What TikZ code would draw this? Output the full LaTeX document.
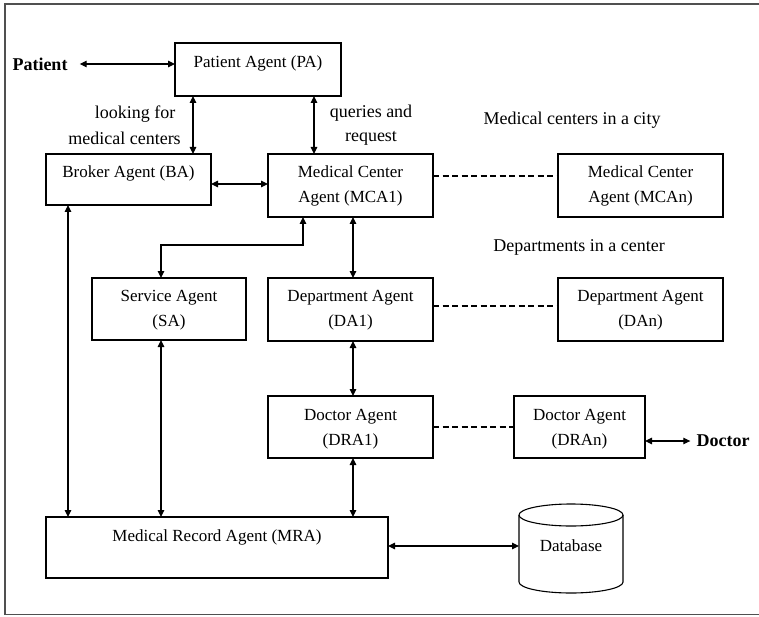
\documentclass[tikz,border=0pt]{standalone}
\usepackage{fontspec}
\setmainfont{Liberation Serif}
\usetikzlibrary{arrows.meta}
\definecolor{framegray}{RGB}{80,80,80}
\begin{document}
\begin{tikzpicture}[x=1pt,y=-1pt,
  box/.style={draw=black, line width=1.1pt, inner sep=0pt, outer sep=0pt},
  txt/.style={font=\fontsize{17}{25}\selectfont, align=center, inner sep=0pt},
  lbl/.style={font=\fontsize{18}{24}\selectfont, align=center, inner sep=0pt},
  ext/.style={font=\fontsize{18}{22}\selectfont\bfseries, inner sep=0pt},
  conn/.style={line width=1.1pt, {Triangle[length=7pt,width=6.5pt]}-{Triangle[length=7pt,width=6.5pt]}},
  dashline/.style={line width=1.1pt, dash pattern=on 6pt off 3.5pt}]
\useasboundingbox (0,0) rectangle (759,617);
% frame
\draw[line width=1.5pt, draw=framegray] (759,4) -- (5,4) -- (5,614.5) -- (759,614.5);

% column / row helpers
\coordinate (c68) at (68,0);
\coordinate (c161) at (161,0);
\coordinate (c193) at (193,0);
\coordinate (c303) at (303,0);
\coordinate (c314) at (314,0);
\coordinate (c353) at (353,0);
\coordinate (r176) at (0,176);
\coordinate (r184) at (0,184);
\coordinate (r245) at (0,245);
\coordinate (r306) at (0,306);
\coordinate (r427) at (0,427);
\coordinate (r546) at (0,546);

% boxes
\node[box, minimum width=166pt, minimum height=53pt] (pa) at (258,69.5) {};
\node[txt] (pat) at (258,63) {Patient Agent (PA)};
\node[box, minimum width=165pt, minimum height=51pt] (ba) at (128.5,179.5) {};
\node[txt] (bat) at (128.5,173) {Broker Agent (BA)};
\node[box, minimum width=165pt, minimum height=63pt] (mca) at (350.5,185.5) {};
\node[txt] (mcat) at (350.5,186) {Medical Center\\Agent (MCA1)};
\node[box, minimum width=165pt, minimum height=63pt] (mcan) at (640.5,185.5) {};
\node[txt] (mcant) at (640.5,186) {Medical Center\\Agent (MCAn)};
\node[box, minimum width=154pt, minimum height=62pt] (sa) at (169,309) {};
\node[txt] (sat) at (169,310) {Service Agent\\(SA)};
\node[box, minimum width=165pt, minimum height=63pt] (da) at (350.5,309.5) {};
\node[txt] (dat) at (350.5,310) {Department Agent\\(DA1)};
\node[box, minimum width=165pt, minimum height=63pt] (dan) at (640.5,309.5) {};
\node[txt] (dant) at (640.5,310) {Department Agent\\(DAn)};
\node[box, minimum width=165pt, minimum height=62pt] (dra) at (350.5,427) {};
\node[txt] (drat) at (350.5,429) {Doctor Agent\\(DRA1)};
\node[box, minimum width=131pt, minimum height=62pt] (dran) at (579.5,427) {};
\node[txt] (drant) at (579.5,429) {Doctor Agent\\(DRAn)};
\node[box, minimum width=342pt, minimum height=61pt] (mra) at (217,547.5) {};
\node[txt] (mrat) at (217,537) {Medical Record Agent (MRA)};

% database cylinder
\node[inner sep=0pt, outer sep=0pt, minimum width=104pt, minimum height=89pt] (db) at (571,548.5) {};
\draw[line width=1.1pt, fill=white] (519,515) -- (519,582)
  arc[start angle=180, end angle=360, x radius=52pt, y radius=11pt] -- (623,515);
\draw[line width=1.1pt] (571,515) ellipse [x radius=52pt, y radius=11pt];
\node[txt] (dbt) at (571,546) {Database};

% external actors
\node[ext] (patient) at (40,64) {Patient};
\node[ext] (doctor) at (723,441) {Doctor};

% labels
\node[lbl] (lf1) at (135,114) {looking for};
\node[lbl] (lf2) at (124.5,138) {medical centers};
\node[lbl] (qr) at (371,125) {queries and\\request};
\node[lbl] (mcc) at (572,120) {Medical centers in a city};
\node[lbl] (dic) at (579,247) {Departments in a center};

% connectors
\draw[conn] ([xshift=12pt]patient.east) -- (patient.east -| pa.west);
\draw[conn] (pa.south -| c193) -- (ba.north -| c193);
\draw[conn] (pa.south -| c314) -- (mca.north -| c314);
\draw[conn] (ba.east |- r184) -- (mca.west |- r184);
\draw[conn] (mca.south -| c303) -- (c303 |- r245) -- (c161 |- r245) -- (sa.north -| c161);
\draw[conn] (mca.south -| c353) -- (da.north -| c353);
\draw[conn] (da.south -| c353) -- (dra.north -| c353);
\draw[conn] (dra.south -| c353) -- (mra.north -| c353);
\draw[conn] (ba.south -| c68) -- (mra.north -| c68);
\draw[conn] (sa.south -| c161) -- (mra.north -| c161);
\draw[conn] (mra.east |- r546) -- (db.west |- r546);
\draw[conn] (dran.east |- doctor.west) -- ([xshift=-6pt]doctor.west);

% dashed links
\draw[dashline] (mca.east |- r176) -- (mcan.west |- r176);
\draw[dashline] (da.east |- r306) -- (dan.west |- r306);
\draw[dashline] (dra.east |- r427) -- (dran.west |- r427);
\end{tikzpicture}
\end{document}
